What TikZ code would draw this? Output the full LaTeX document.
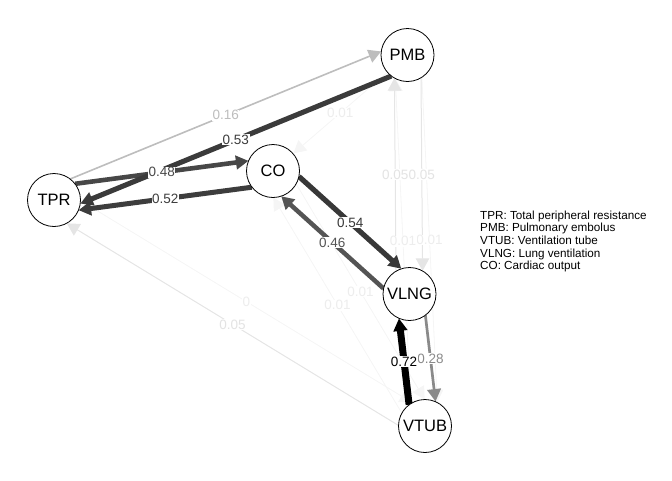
\documentclass[tikz,border=0pt]{standalone}
\usepackage{fontspec}
\setmainfont{Liberation Sans}
\usetikzlibrary{calc,arrows.meta}
\pgfdeclarelayer{edges}
\pgfdeclarelayer{labels}
\pgfsetlayers{edges,labels,main}
\tikzset{
  netnode/.style={circle, draw=black, line width=0.8pt, fill=white, minimum size=53pt, inner sep=0pt, font=\fontsize{16.5}{18}\selectfont},
  tipped/.style={-{Triangle[length=12.5pt,width=13.5pt]}},
  elbl/.style={fill=white, inner sep=0.6pt, font=\fontsize{13.5}{14}\selectfont},
  legend/.style={anchor=north west, align=left, inner sep=0pt, font=\fontsize{11.7}{12.67}\selectfont},
}
% parallel (offset) edge from #1 to #2, width #3, colour #4
\newcommand{\pedge}[4]{%
  \draw[tipped, line width=#3, draw=#4, fill=#4] ($(#1)!26.6pt!30:(#2)$) -- ($(#2)!26.6pt!-30:(#1)$);}
% label of a parallel edge
\newcommand{\plabel}[4]{%
  \node[elbl, text=#4] at ($(#1)!0.5!(#2)!13.3pt!90:(#2)$) {#3};}
\begin{document}
\begin{tikzpicture}[x=1pt,y=-1pt]
\useasboundingbox (0,0) rectangle (672,480);

\node[netnode] (PMB)  at (407.5,55)  {PMB};
\node[netnode] (TPR)  at (54,200)    {TPR};
\node[netnode] (CO)   at (273,171)   {CO};
\node[netnode] (VLNG) at (409.5,294) {VLNG};
\node[netnode] (VTUB) at (425,426)   {VTUB};

\begin{pgfonlayer}{edges}
  \pedge{TPR}{VTUB}{0.8pt}{black!4}
  \pedge{PMB}{VTUB}{0.8pt}{black!4}
  \pedge{VTUB}{PMB}{0.8pt}{black!4}
  \pedge{CO}{VTUB}{0.8pt}{black!4}
  \pedge{VTUB}{CO}{0.8pt}{black!4}
  \draw[tipped, line width=0.8pt, draw=black!4, fill=black!4] (PMB) -- (CO);
  \pedge{VTUB}{TPR}{1pt}{black!10}
  \pedge{PMB}{VLNG}{1pt}{black!10}
  \pedge{VLNG}{PMB}{1pt}{black!10}
  \pedge{TPR}{PMB}{1.6pt}{black!26}
  \pedge{VLNG}{VTUB}{2.7pt}{black!46}
  \pedge{VLNG}{CO}{4.5pt}{black!67}
  \pedge{TPR}{CO}{4.6pt}{black!72}
  \pedge{CO}{TPR}{5pt}{black!76}
  \pedge{PMB}{TPR}{5.1pt}{black!77}
  \pedge{CO}{VLNG}{5.2pt}{black!78}
  \pedge{VTUB}{VLNG}{7pt}{black}
\end{pgfonlayer}

\begin{pgfonlayer}{labels}
  \plabel{TPR}{VTUB}{0}{black!7}
  \plabel{PMB}{VTUB}{0.01}{black!7}
  \plabel{VTUB}{PMB}{0.01}{black!7}
  \plabel{CO}{VTUB}{0.01}{black!7}
  \plabel{VTUB}{CO}{0.01}{black!7}
  \node[elbl, text=black!7] (lblPC) at ($(PMB)!0.5!(CO)$) {0.01};
  \plabel{VTUB}{TPR}{0.05}{black!11}
  \plabel{PMB}{VLNG}{0.05}{black!11}
  \plabel{VLNG}{PMB}{0.05}{black!11}
  \plabel{TPR}{PMB}{0.16}{black!26}
  \plabel{VLNG}{VTUB}{0.28}{black!46}
  \plabel{VLNG}{CO}{0.46}{black!67}
  \plabel{TPR}{CO}{0.48}{black!72}
  \plabel{CO}{TPR}{0.52}{black!76}
  \plabel{PMB}{TPR}{0.53}{black!77}
  \plabel{CO}{VLNG}{0.54}{black!78}
  \plabel{VTUB}{VLNG}{0.72}{black}
\end{pgfonlayer}

\node[legend] (legendtext) at (480,210.5) {TPR: Total peripheral resistance\\PMB: Pulmonary embolus\\VTUB: Ventilation tube\\VLNG: Lung ventilation\\CO: Cardiac output};
\end{tikzpicture}
\end{document}
